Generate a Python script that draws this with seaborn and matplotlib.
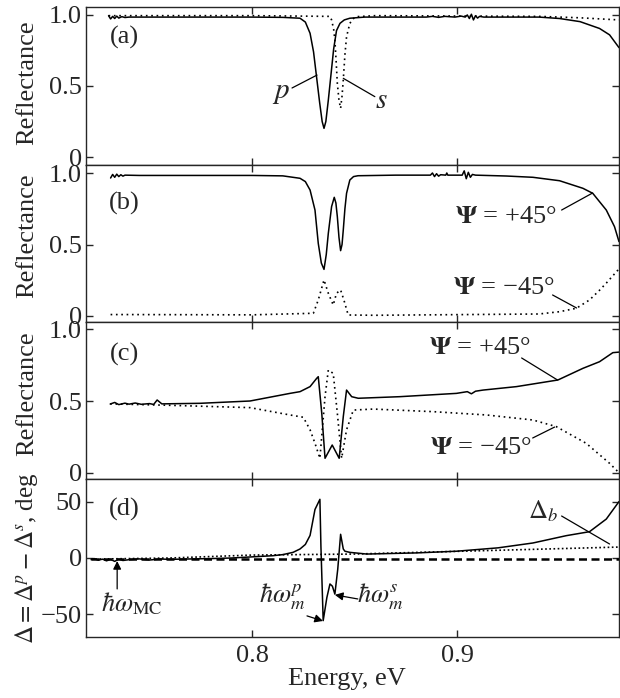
import numpy as np
import pandas as pd
import matplotlib
matplotlib.use("Agg")
import matplotlib.pyplot as plt
import seaborn as sns

# ---------------- data ----------------
# Panel (a): p (solid) and s (dotted) reflectance
E_a_p = [0.7300, 0.7310, 0.7320, 0.7330, 0.7340, 0.7350, 0.7365, 0.7380, 0.7400, 0.7600,
         0.8000, 0.8150, 0.8234, 0.8260, 0.8283, 0.8300, 0.8315, 0.8330, 0.8342, 0.8351,
         0.8360, 0.8372, 0.8385, 0.8398, 0.8412, 0.8429, 0.8450, 0.8477, 0.8550, 0.8850,
         0.8880, 0.8910, 0.8940, 0.8990, 0.9020, 0.9040, 0.9050, 0.9060, 0.9070, 0.9080,
         0.9090, 0.9100, 0.9110, 0.9130, 0.9200, 0.9400, 0.9500, 0.9600, 0.9695, 0.9744,
         0.9790]
R_a_p = [0.995, 0.972, 0.990, 0.975, 0.992, 0.978, 0.988, 0.982, 0.985, 0.985,
         0.985, 0.983, 0.977, 0.950, 0.871, 0.740, 0.560, 0.380, 0.250, 0.202,
         0.250, 0.400, 0.580, 0.760, 0.890, 0.941, 0.965, 0.977, 0.985, 0.985,
         0.990, 0.983, 0.990, 0.985, 0.992, 0.985, 1.000, 0.975, 1.005, 0.965,
         0.995, 0.978, 0.990, 0.985, 0.985, 0.985, 0.975, 0.953, 0.905, 0.860,
         0.770]
E_a_s = [0.7300, 0.8000, 0.8380, 0.8388, 0.8398, 0.8404, 0.8410, 0.8416, 0.8424, 0.8432,
         0.8439, 0.8445, 0.8453, 0.8461, 0.8477, 0.8495, 0.8510, 0.8600, 0.9400, 0.9600,
         0.9790]
R_a_s = [0.995, 0.995, 0.990, 0.965, 0.900, 0.824, 0.680, 0.519, 0.400, 0.343,
         0.430, 0.542, 0.720, 0.847, 0.941, 0.975, 0.988, 0.995, 0.990, 0.980,
         0.965]

# Panel (b): Psi = +45 (solid), Psi = -45 (dotted)
E_b_p = [0.7310, 0.7320, 0.7330, 0.7340, 0.7350, 0.7360, 0.7370, 0.7380, 0.7450, 0.8000,
         0.8150, 0.8234, 0.8260, 0.8283, 0.8307, 0.8323, 0.8338, 0.8351, 0.8362, 0.8372,
         0.8388, 0.8401, 0.8409, 0.8416, 0.8424, 0.8432, 0.8439, 0.8445, 0.8453, 0.8461,
         0.8477, 0.8495, 0.8517, 0.8700, 0.8870, 0.8880, 0.8890, 0.8900, 0.8910, 0.8920,
         0.8945, 0.8950, 0.8955, 0.9025, 0.9035, 0.9045, 0.9055, 0.9065, 0.9075, 0.9090,
         0.9240, 0.9370, 0.9500, 0.9614, 0.9662, 0.9728, 0.9768, 0.9790]
R_b_p = [0.965, 0.990, 0.970, 0.992, 0.975, 0.988, 0.978, 0.985, 0.983, 0.983,
         0.980, 0.963, 0.940, 0.881, 0.741, 0.508, 0.370, 0.326, 0.430, 0.578,
         0.765, 0.830, 0.790, 0.695, 0.550, 0.457, 0.500, 0.601, 0.750, 0.858,
         0.951, 0.975, 0.981, 0.985, 0.985, 1.000, 0.975, 0.995, 0.978, 0.988,
         0.985, 1.000, 0.985, 0.985, 1.015, 0.960, 1.005, 0.970, 0.990, 0.985,
         0.979, 0.970, 0.946, 0.893, 0.858, 0.741, 0.625, 0.520]
E_b_m = [0.7310, 0.7400, 0.8000, 0.8299, 0.8323, 0.8351, 0.8372, 0.8396, 0.8412, 0.8432,
         0.8448, 0.8469, 0.8600, 0.9400, 0.9500, 0.9582, 0.9646, 0.9695, 0.9728, 0.9784,
         0.9790]
R_b_m = [0.010, 0.010, 0.008, 0.019, 0.112, 0.252, 0.159, 0.077, 0.159, 0.182,
         0.112, 0.007, 0.005, 0.014, 0.030, 0.054, 0.112, 0.180, 0.230, 0.320,
         0.330]

# Panel (c)
E_c_p = [0.7308, 0.7330, 0.7350, 0.7380, 0.7400, 0.7430, 0.7460, 0.7500, 0.7520, 0.7537,
         0.7560, 0.7747, 0.7990, 0.8185, 0.8234, 0.8283, 0.8315, 0.8323, 0.8340, 0.8356,
         0.8391, 0.8425, 0.8445, 0.8461, 0.8486, 0.8518, 0.8720, 0.8997, 0.9050, 0.9070,
         0.9090, 0.9127, 0.9290, 0.9492, 0.9614, 0.9695, 0.9760, 0.9792]
R_c_p = [0.479, 0.490, 0.475, 0.485, 0.478, 0.486, 0.477, 0.482, 0.476, 0.507,
         0.480, 0.484, 0.500, 0.553, 0.565, 0.600, 0.657, 0.669, 0.416, 0.102,
         0.194, 0.102, 0.391, 0.576, 0.530, 0.519, 0.530, 0.553, 0.565, 0.550,
         0.568, 0.576, 0.600, 0.646, 0.727, 0.773, 0.836, 0.840]
E_c_m = [0.7308, 0.7600, 0.7990, 0.8185, 0.8250, 0.8283, 0.8307, 0.8331, 0.8356, 0.8372,
         0.8396, 0.8416, 0.8437, 0.8461, 0.8494, 0.8591, 0.8883, 0.9143, 0.9370, 0.9484,
         0.9630, 0.9744, 0.9784]
R_c_m = [0.480, 0.470, 0.454, 0.403, 0.387, 0.300, 0.206, 0.102, 0.530, 0.715,
         0.692, 0.415, 0.102, 0.300, 0.437, 0.444, 0.426, 0.403, 0.368, 0.322,
         0.206, 0.067, 0.010]

# Panel (d): Delta (solid), Delta_b (dotted), reference (dashed)
E_d = [0.7215, 0.7230, 0.7250, 0.7270, 0.7290, 0.7310, 0.7330, 0.7350, 0.7370, 0.7400,
       0.7450, 0.7500, 0.7550, 0.7600, 0.7800, 0.7900, 0.8000, 0.8100, 0.8150, 0.8200,
       0.8234, 0.8260, 0.8283, 0.8307, 0.8331, 0.8336, 0.8347, 0.8365, 0.8380, 0.8392,
       0.8404, 0.8418, 0.8432, 0.8445, 0.8453, 0.8477, 0.8559, 0.8800, 0.8997, 0.9200,
       0.9370, 0.9533, 0.9646, 0.9728, 0.9790]
V_d = [-1.5, -0.5, -2.0, -1.0, -2.5, -1.2, -3.0, -1.0, -2.2, -1.5,
       -0.8, -1.8, -0.9, -1.2, -0.5, 0.0, 1.0, 2.0, 3.0, 5.0,
       8.0, 12.0, 20.0, 43.0, 52.0, 10.0, -55.5, -35.0, -23.0, -25.0,
       -32.0, -10.0, 21.0, 8.0, 6.0, 5.0, 3.5, 4.5, 6.0, 9.0,
       13.3, 19.8, 23.3, 34.5, 50.0]
E_db = [0.7215, 0.7600, 0.8000, 0.8500, 0.9000, 0.9400, 0.9790]
V_db = [-1.0, 0.0, 2.6, 3.5, 5.9, 7.8, 9.7]
E_ref = [0.7215, 0.9790]
V_ref = [-0.7, -0.7]

x_ticks = [0.8, 0.9]
x_ticklabels = ["0.8", "0.9"]
r_ticks = [0.0, 0.5, 1.0]
r_ticklabels = ["0", "0.5", "1.0"]
d_ticks = [-50, 0, 50]
d_ticklabels = ["\u221250", "0", "50"]

# ---------------- style ----------------
sns.set_style("ticks")
plt.rcParams["font.family"] = ["Liberation Serif", "DejaVu Serif"]
plt.rcParams["mathtext.fontset"] = "stix"
plt.rcParams["axes.linewidth"] = 1.0

FS = 19
W, H = 620, 698
fig = plt.figure(figsize=(W / 100, H / 100), dpi=100)
gs = fig.add_gridspec(4, 1, left=86 / W, right=619 / W, top=1 - 7 / H, bottom=1 - 637 / H,
                      hspace=0, height_ratios=[158, 157, 157, 158])
axes = [fig.add_subplot(gs[i]) for i in range(4)]
for ax in axes[1:]:
    ax.sharex(axes[0])

solid_kw = dict(color="black", lw=1.1, linestyle="-")
dot_kw = dict(color="black", lw=1.2, linestyle=(0, (1, 2.2)))


def line(ax, x, y, **kw):
    sns.lineplot(x=x, y=y, ax=ax, sort=False, estimator=None, **kw)


line(axes[0], E_a_s, R_a_s, **dot_kw)
line(axes[0], E_a_p, R_a_p, **solid_kw)
line(axes[1], E_b_m, R_b_m, **dot_kw)
line(axes[1], E_b_p, R_b_p, **solid_kw)
line(axes[2], E_c_m, R_c_m, **dot_kw)
line(axes[2], E_c_p, R_c_p, **solid_kw)
line(axes[3], E_ref, V_ref, color="black", lw=1.8, linestyle=(0, (3.2, 1.8)))
line(axes[3], E_db, V_db, color="black", lw=1.2, linestyle=(0, (1, 1.5)))
line(axes[3], E_d, V_d, **solid_kw)

ylims = [(-0.056, 1.056), (-0.042, 1.056), (-0.042, 1.049), (-70, 70)]
for i, ax in enumerate(axes):
    ax.set_xlim(0.719, 0.979)
    ax.set_ylim(*ylims[i])
    ax.tick_params(direction="in", length=5, width=1.0, top=True, right=True,
                   labelsize=FS, pad=3)
    ax.tick_params(axis="x", pad=6)
    ax.set_xticks(x_ticks)
    if i < 3:
        ax.set_yticks(r_ticks, r_ticklabels)
        ax.tick_params(axis="x", labelbottom=False)
        ax.set_ylabel("Reflectance", fontsize=FS, va="center")
        ax.set_xlabel("")
    else:
        ax.set_yticks(d_ticks, d_ticklabels)
        ax.set_xticks(x_ticks, x_ticklabels)
        ax.set_ylabel(r"$\Delta = \Delta^p - \Delta^s$, deg", fontsize=FS - 1, va="center")
        ax.set_xlabel("Energy, eV", fontsize=FS, va="center")
    for s in ax.spines.values():
        s.set_linewidth(1.0)

label_y = [0.52, 0.548, 0.545, 0.50]
for ax, ly in zip(axes, label_y):
    ax.yaxis.set_label_coords(-59 / 533, ly)
axes[3].xaxis.set_label_coords(0.49, -0.266)

for ax, t, ty in zip(axes, ["(a)", "(b)", "(c)", "(d)"], [0.81, 0.758, 0.796, 0.81]):
    ax.text(0.072, ty, t, transform=ax.transAxes, fontsize=FS, ha="center", va="center")

plain = dict(arrowstyle="-", color="black", lw=0.9, shrinkA=0, shrinkB=0)
arrow = dict(arrowstyle="-|>", color="black", lw=0.9, shrinkA=0, shrinkB=0, mutation_scale=12)

# (a)
axes[0].text(0.8141, 0.45, "$p$", fontsize=FS + 2, ha="center", va="center")
axes[0].annotate("", xy=(0.8317, 0.577), xytext=(0.8195, 0.486), arrowprops=plain)
axes[0].text(0.8633, 0.394, "$s$", fontsize=FS + 2, ha="center", va="center")
axes[0].annotate("", xy=(0.8445, 0.554), xytext=(0.8599, 0.425), arrowprops=plain)

# (b)
psi_p = r"$\mathbf{\Psi}$ = +45°"
psi_m = r"$\mathbf{\Psi}$ = " + "\u221245°"
axes[1].text(0.924, 0.692, psi_p, fontsize=FS, ha="center", va="center")
axes[1].annotate("", xy=(0.9661, 0.860), xytext=(0.951, 0.741), arrowprops=plain)
axes[1].text(0.9227, 0.196, psi_m, fontsize=FS, ha="center", va="center")
axes[1].annotate("", xy=(0.9583, 0.056), xytext=(0.9466, 0.147), arrowprops=plain)

# (c)
axes[2].text(0.9111, 0.868, psi_p, fontsize=FS, ha="center", va="center")
axes[2].annotate("", xy=(0.949, 0.646), xytext=(0.9315, 0.799), arrowprops=plain)
axes[2].text(0.9115, 0.174, psi_m, fontsize=FS, ha="center", va="center")
axes[2].annotate("", xy=(0.9476, 0.319), xytext=(0.9369, 0.243), arrowprops=plain)

# (d)
axes[3].text(0.7415, -40.7, r"$\hbar\omega_{\rm MC}$", fontsize=FS, ha="center", va="center")
axes[3].annotate("", xy=(0.7342, -2.7), xytext=(0.7342, -27.4), arrowprops=arrow)
axes[3].text(0.8146, -34.5, r"$\hbar\omega_m^p$", fontsize=FS, ha="center", va="center")
axes[3].annotate("", xy=(0.8346, -55.8), xytext=(0.8268, -51.3), arrowprops=arrow)
axes[3].text(0.8623, -34.5, r"$\hbar\omega_m^s$", fontsize=FS, ha="center", va="center")
axes[3].annotate("", xy=(0.8404, -32.7), xytext=(0.8516, -36.3), arrowprops=arrow)
axes[3].text(0.9422, 41.6, r"$\Delta_b$", fontsize=FS, ha="center", va="center")
axes[3].annotate("", xy=(0.9744, 12.4), xytext=(0.951, 37.2), arrowprops=plain)

fig.savefig("out.png", dpi=100)
